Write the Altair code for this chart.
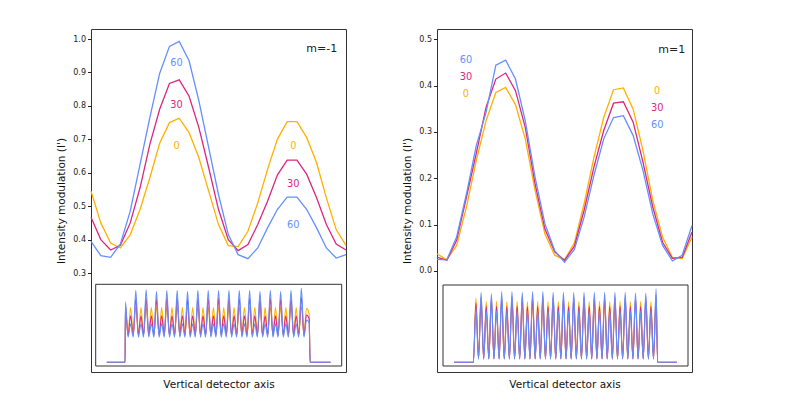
import altair as alt
import pandas as pd

series = ["0", "30", "60"]
colors = ["#FFB000", "#DC267F", "#648FFF"]

# ---------------- main curves (27 samples on the detector axis) ----------------
left_0 = [0.545, 0.45, 0.39, 0.375, 0.415, 0.49, 0.585, 0.688, 0.75, 0.763, 0.72, 0.645, 0.545, 0.445,
          0.382, 0.379, 0.425, 0.51, 0.61, 0.70, 0.753, 0.753, 0.705, 0.63, 0.525, 0.43, 0.383]
left_30 = [0.467, 0.40, 0.369, 0.383, 0.45, 0.555, 0.685, 0.79, 0.867, 0.878, 0.829, 0.735, 0.615, 0.49,
           0.40, 0.367, 0.385, 0.445, 0.515, 0.593, 0.638, 0.638, 0.595, 0.525, 0.445, 0.387, 0.369]
left_60 = [0.395, 0.352, 0.347, 0.387, 0.485, 0.625, 0.765, 0.897, 0.978, 0.993, 0.935, 0.815, 0.675, 0.535,
           0.415, 0.355, 0.343, 0.375, 0.435, 0.49, 0.527, 0.527, 0.49, 0.435, 0.375, 0.345, 0.355]

right_0 = [0.037, 0.024, 0.055, 0.138, 0.238, 0.324, 0.385, 0.396, 0.359, 0.285, 0.174, 0.08, 0.034, 0.024,
           0.06, 0.145, 0.245, 0.331, 0.391, 0.395, 0.349, 0.26, 0.152, 0.073, 0.029, 0.027, 0.073]
right_30 = [0.03, 0.023, 0.066, 0.159, 0.253, 0.353, 0.414, 0.427, 0.389, 0.31, 0.188, 0.091, 0.041, 0.023,
            0.053, 0.131, 0.224, 0.303, 0.362, 0.365, 0.321, 0.235, 0.138, 0.062, 0.027, 0.029, 0.084]
right_60 = [0.025, 0.024, 0.073, 0.166, 0.27, 0.342, 0.444, 0.455, 0.414, 0.324, 0.202, 0.102, 0.044, 0.019,
            0.046, 0.116, 0.206, 0.285, 0.331, 0.335, 0.292, 0.217, 0.123, 0.055, 0.022, 0.034, 0.098]

# ---------------- curve labels ----------------
left_lbl_text = ["60", "30", "0", "0", "30", "60"]
left_lbl_x = [8.72, 8.72, 8.72, 20.63, 20.63, 20.63]
left_lbl_y = [0.927, 0.803, 0.68, 0.68, 0.567, 0.445]

right_lbl_text = ["60", "30", "0", "0", "30", "60"]
right_lbl_x = [2.95, 2.95, 2.95, 22.45, 22.45, 22.45]
right_lbl_y = [0.455, 0.418, 0.382, 0.389, 0.351, 0.315]

left_corner = ["m=-1"]
left_corner_x = [25.1]
left_corner_y = [0.97]
right_corner = ["m=1"]
right_corner_x = [25.3]
right_corner_y = [0.476]

# ---------------- inset: full detector profile (peak / trough levels read per cycle) ----------------
lin_A = {
    "0": [0.76, 0.76, 0.76, 0.76, 0.76, 0.76, 0.76, 0.76, 0.76, 0.76, 0.76, 0.76, 0.76, 0.76, 0.76, 0.76, 0.77],
    "30": [0.88, 0.88, 0.87, 0.88, 0.88, 0.87, 0.88, 0.88, 0.88, 0.88, 0.88, 0.88, 0.87, 0.88, 0.87, 0.88, 0.90],
    "60": [0.99, 1.0, 0.97, 0.99, 0.99, 0.97, 0.99, 0.99, 0.99, 0.99, 0.99, 0.99, 0.97, 0.99, 0.97, 0.99, 1.02],
}
lin_B = {
    "0": [0.75, 0.75, 0.75, 0.75, 0.75, 0.75, 0.75, 0.75, 0.75, 0.75, 0.75, 0.75, 0.75, 0.75, 0.75, 0.75, 0.75, 0.74],
    "30": [0.64, 0.64, 0.64, 0.64, 0.64, 0.64, 0.64, 0.64, 0.64, 0.64, 0.64, 0.64, 0.64, 0.64, 0.64, 0.64, 0.64, 0.65],
    "60": [0.53, 0.53, 0.53, 0.53, 0.53, 0.53, 0.53, 0.53, 0.53, 0.53, 0.53, 0.53, 0.53, 0.53, 0.53, 0.53, 0.53, 0.58],
}
lin_trough = {"0": 0.38, "30": 0.37, "60": 0.345}
lin_edge = {"0": 0.72, "30": 0.78, "60": 0.83}
lin_shoulder = {"0": 0.66, "30": 0.60, "60": 0.55}
lin_span = [-7.2, 79.3]

rin_A = {
    "0": [0.396, 0.395, 0.397, 0.397, 0.396, 0.397, 0.397, 0.396, 0.396, 0.396, 0.396, 0.396,
          0.396, 0.396, 0.396, 0.395, 0.395, 0.41],
    "30": [0.425, 0.42, 0.428, 0.428, 0.425, 0.428, 0.428, 0.425, 0.425, 0.425, 0.425, 0.425,
           0.425, 0.425, 0.425, 0.423, 0.423, 0.44],
    "60": [0.455, 0.446, 0.461, 0.461, 0.455, 0.461, 0.461, 0.455, 0.455, 0.455, 0.455, 0.455,
           0.455, 0.455, 0.455, 0.451, 0.451, 0.479],
}
rin_B = {
    "0": [0.418, 0.397, 0.397, 0.395, 0.397, 0.395, 0.397, 0.395, 0.397, 0.395, 0.397, 0.395,
          0.397, 0.395, 0.397, 0.395, 0.397, 0.395],
    "30": [0.386, 0.365, 0.365, 0.363, 0.365, 0.363, 0.365, 0.363, 0.365, 0.363, 0.365, 0.363,
           0.365, 0.363, 0.365, 0.363, 0.365, 0.363],
    "60": [0.354, 0.335, 0.335, 0.333, 0.335, 0.333, 0.335, 0.333, 0.335, 0.333, 0.335, 0.333,
           0.335, 0.333, 0.335, 0.333, 0.335, 0.333],
}
rin_trough = {"0": 0.025, "30": 0.023, "60": 0.02}
rin_span = [-6.5, 80.1]

FONT = "DejaVu Sans"


def main_df(vals):
    rows = []
    for s, v in zip(series, vals):
        for i, y in enumerate(v):
            rows.append({"x": i, "y": y, "series": s})
    return pd.DataFrame(rows)


def left_inset_df():
    rows = []
    for s in series:
        pts = [(lin_span[0], 0.0), (-0.15, 0.0), (0, lin_edge[s])]
        for k in range(18):
            pts.append((4 * k + 1, lin_trough[s]))
            pts.append((4 * k + 2, lin_B[s][k]))
            if k < 17:
                pts.append((4 * k + 3, lin_trough[s]))
                pts.append((4 * k + 4, lin_A[s][k]))
        pts += [(71, lin_shoulder[s]), (71.4, 0.0), (lin_span[1], 0.0)]
        rows += [{"ix": a, "iy": b, "series": s} for a, b in pts]
    return pd.DataFrame(rows)


def right_inset_df():
    rows = []
    for s in series:
        pts = [(rin_span[0], 0.0), (1.0, 0.0)]
        for k in range(18):
            pts.append((4 * k + 2, rin_B[s][k]))
            pts.append((4 * k + 3, rin_trough[s]))
            pts.append((4 * k + 4, rin_A[s][k]))
            if k < 17:
                pts.append((4 * k + 5, rin_trough[s]))
        pts += [(72.6, 0.0), (rin_span[1], 0.0)]
        rows += [{"ix": a, "iy": b, "series": s} for a, b in pts]
    return pd.DataFrame(rows)


def panel(mdf, ltext, lx, ly, ctext, cx, cy, idf, y_domain, y_values,
          ix_domain, ix_range, iy_domain, iy_range):
    color = alt.Color("series:N", scale=alt.Scale(domain=series, range=colors), legend=None)
    xs = alt.Scale(domain=[0, 26], nice=False, zero=False)
    ys = alt.Scale(domain=y_domain, nice=False, zero=False)
    lines = alt.Chart(mdf).mark_line(strokeWidth=1.3).encode(
        x=alt.X("x:Q", scale=xs,
                axis=alt.Axis(title="Vertical detector axis", labels=False, ticks=False,
                              domain=False, grid=False, titlePadding=7,
                              titleFontWeight="normal", titleFontSize=10.5, titleFont=FONT,
                              titleColor="#111")),
        y=alt.Y("y:Q", scale=ys,
                axis=alt.Axis(title="Intensity modulation (I')", values=y_values, format=".1f",
                              grid=False, domain=False, titleFontWeight="normal",
                              titleFontSize=10.5, titleFont=FONT, titleColor="#111",
                              labelFont=FONT, labelFontSize=8, labelColor="#222",
                              tickColor="#222", tickSize=3.5, labelPadding=2,
                              titlePadding=6)),
        color=color,
    )
    ldf = pd.DataFrame({"x": lx, "y": ly, "label": ltext, "series": ltext})
    labels = alt.Chart(ldf).mark_text(fontSize=9.8, font=FONT).encode(
        x=alt.X("x:Q", scale=xs, axis=None),
        y=alt.Y("y:Q", scale=ys, axis=None),
        text="label:N",
        color=color,
    )
    cdf = pd.DataFrame({"x": cx, "y": cy, "label": ctext})
    corner = alt.Chart(cdf).mark_text(fontSize=11, align="right", color="#222", font=FONT).encode(
        x=alt.X("x:Q", scale=xs, axis=None),
        y=alt.Y("y:Q", scale=ys, axis=None),
        text="label:N",
    )
    ixs = alt.Scale(domain=ix_domain, range=ix_range, nice=False, zero=False)
    iys = alt.Scale(domain=iy_domain, range=iy_range, nice=False, zero=False)
    inset = alt.Chart(idf).mark_line(strokeWidth=1.1, interpolate="monotone").encode(
        x=alt.X("ix:Q", scale=ixs, axis=None),
        y=alt.Y("iy:Q", scale=iys, axis=None),
        color=color,
    )
    bdf = pd.DataFrame({"x0": [ix_domain[0]], "x1": [ix_domain[1]],
                        "y0": [iy_domain[0]], "y1": [iy_domain[1]]})
    box = alt.Chart(bdf).mark_rect(fillOpacity=0, stroke="#333", strokeWidth=1).encode(
        x=alt.X("x0:Q", scale=ixs, axis=None), x2="x1:Q",
        y=alt.Y("y0:Q", scale=iys, axis=None), y2="y1:Q",
    )
    return alt.layer(lines, labels, corner, inset, box).resolve_scale(
        x="independent", y="independent"
    ).properties(width=255, height=343, view=alt.ViewConfig(stroke="#333", strokeWidth=1))


left = panel(main_df([left_0, left_30, left_60]), left_lbl_text, left_lbl_x, left_lbl_y,
             left_corner, left_corner_x, left_corner_y, left_inset_df(),
             [0.004, 1.03], [0.3, 0.4, 0.5, 0.6, 0.7, 0.8, 0.9, 1.0],
             [-11.5, 83.6], [4.7, 250.7], [-0.051, 1.071], [337, 255.3])
right = panel(main_df([right_0, right_30, right_60]), right_lbl_text, right_lbl_x, right_lbl_y,
              right_corner, right_corner_x, right_corner_y, right_inset_df(),
              [-0.218, 0.522], [0.0, 0.1, 0.2, 0.3, 0.4, 0.5],
              [-10.8, 84.4], [6, 251], [-0.024, 0.503], [337, 256])

chart = alt.hconcat(left, right, spacing=52).properties(
    padding={"left": 48, "top": 20, "right": 5, "bottom": 5}
).configure_view(stroke="#333", strokeWidth=1).configure_axis(
    labelFont=FONT, titleFont=FONT, titleFontWeight="normal",
).configure(background="white")

chart.save("out.html", embed_options={"renderer": "svg", "actions": False})
